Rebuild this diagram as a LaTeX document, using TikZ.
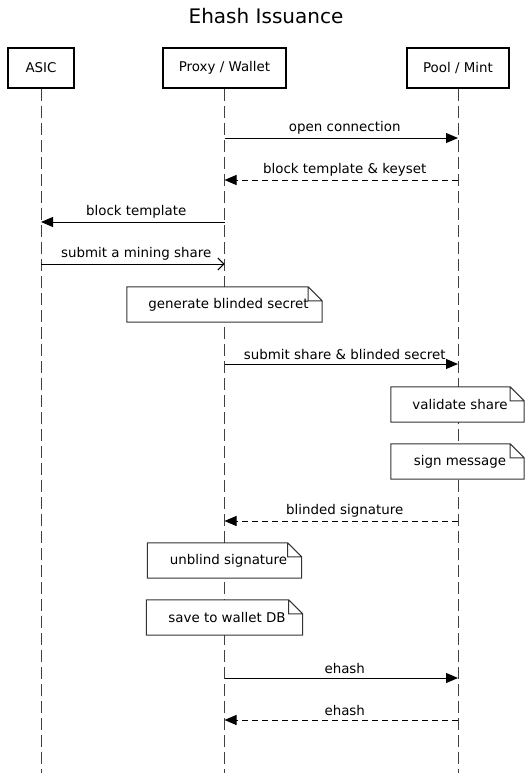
\documentclass[tikz,border=0pt]{standalone}
\usepackage{fontspec}
\setmainfont{DejaVu Sans}
\usetikzlibrary{arrows.meta}

\newcommand{\dogear}[1]{%
	\draw[noteline] (#1.south west) -- (#1.south east) -- ([yshift=-14pt]#1.north east)
		-- ([xshift=-14pt]#1.north east) -- (#1.north west) -- cycle
		([xshift=-14pt]#1.north east) |- ([yshift=-14pt]#1.north east);}

\begin{document}
\begin{tikzpicture}[
		x=1pt, y=-1pt,
		txt/.style={font=\fontsize{13.4}{15}\selectfont},
		actor/.style={txt, draw, line width=2pt, minimum height=40pt},
		lifeline/.style={line width=1pt, draw=black!75, dash pattern=on 12pt off 5pt},
		call/.style={line width=1pt, -{Triangle[length=12pt,width=10pt]}},
		reply/.style={call, dash pattern=on 6pt off 4pt},
		async/.style={line width=1pt, -{Straight Barb[length=6pt,width=12pt]}},
		msg/.style={txt, above, inner sep=3.5pt, xshift=3.5pt},
		note/.style={txt, fill=white, minimum height=35pt, inner sep=0pt},
		noteline/.style={line width=1pt, draw=black!80}
		]
		\useasboundingbox (0,0) rectangle (532,773);
		\node[font=\fontsize{20}{24}\selectfont] (title) at (266,16) {Ehash Issuance};
		
		% participants
		\node[actor, minimum width=66pt] (asic) at (41,68) {ASIC};
		\node[actor, minimum width=123pt] (proxy) at (224.5,68) {Proxy / Wallet};
		\node[actor, minimum width=102pt] (pool) at (458,68) {Pool / Mint};
		
		% rows
		\coordinate (bottom) at (0,773);
		\coordinate (r1) at (0,138);
		\coordinate (r2) at (0,180);
		\coordinate (r3) at (0,222);
		\coordinate (r4) at (0,264);
		\coordinate (r5) at (0,304.5);
		\coordinate (r6) at (0,364);
		\coordinate (r7) at (0,404.5);
		\coordinate (r8) at (0,461.5);
		\coordinate (r9) at (0,521);
		\coordinate (r10) at (0,560.5);
		\coordinate (r11) at (0,617.5);
		\coordinate (r12) at (0,678);
		\coordinate (r13) at (0,720);
		
		\foreach \p in {asic,proxy,pool}
		\draw[lifeline] (\p.south) -- (\p |- bottom);
		
		\draw[call] (proxy |- r1) -- node[msg] {open connection} (pool |- r1);
		\draw[reply] (pool |- r2) -- node[msg] {block template \& keyset} (proxy |- r2);
		\draw[call] (proxy |- r3) -- node[msg] {block template} (asic |- r3);
		\draw[async] (asic |- r4) -- node[msg] {submit a mining share} (proxy |- r4);
		
		\node[note, minimum width=195pt] (gen) at (proxy |- r5) {\hspace*{8pt}generate blinded secret};
		\dogear{gen}
		
		\draw[call] (proxy |- r6) -- node[msg] {submit share \& blinded secret} (pool |- r6);
		
		\node[note, minimum width=133pt] (valid) at (457.5,404.5) {\hspace*{5pt}validate share};
		\dogear{valid}
		\node[note, minimum width=133pt] (sign) at (457.5,461.5) {\hspace*{5pt}sign message};
		\dogear{sign}
		
		\draw[reply] (pool |- r9) -- node[msg] {blinded signature} (proxy |- r9);
		
		\node[note, minimum width=154pt] (unblind) at (proxy |- r10) {\hspace*{8pt}unblind signature};
		\dogear{unblind}
		\node[note, minimum width=156pt] (save) at (proxy |- r11) {\hspace*{5pt}save to wallet DB};
		\dogear{save}
		
		\draw[call] (proxy |- r12) -- node[msg] {ehash} (pool |- r12);
		\draw[reply] (pool |- r13) -- node[msg] {ehash} (proxy |- r13);
		
		\end{tikzpicture}
\end{document}
